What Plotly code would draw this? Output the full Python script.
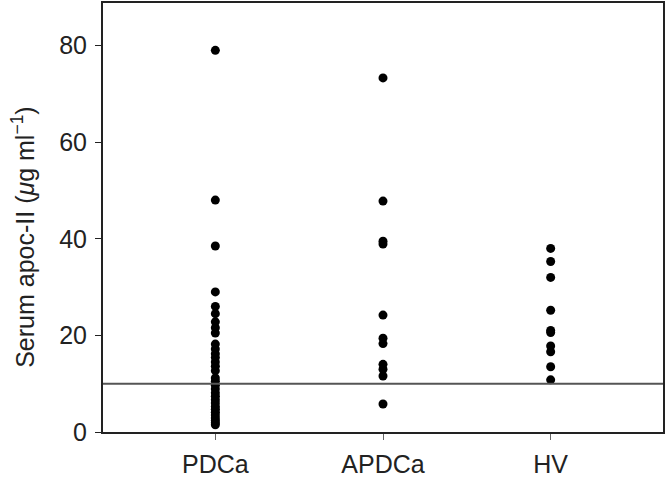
import plotly.graph_objects as go

groups = ["PDCa", "APDCa", "HV"]
pdca = [79, 48, 38.5, 29, 26, 24.5, 22.8, 21.6, 20.5, 18.2, 17.2, 16.2, 15.4, 14.5,
        13.6, 12.7, 11.2, 10.5, 9.7, 8.9, 8.1, 7.4, 6.7, 6.0, 5.3, 4.7, 4.1, 3.5,
        2.9, 2.4, 1.9, 1.5]
apdca = [73.3, 47.8, 39.5, 38.9, 24.2, 19.4, 18.3, 14.0, 13.0, 11.6, 5.8]
hv = [38, 35.3, 32, 25.2, 21, 20.6, 17.8, 16.6, 13.5, 10.8]
cutoff = 10

fig = go.Figure()
for name, vals in zip(groups, [pdca, apdca, hv]):
    fig.add_trace(go.Scatter(x=[name] * len(vals), y=vals, mode="markers",
                             marker=dict(color="black", size=9), showlegend=False))

fig.add_hline(y=cutoff, line=dict(color="#555555", width=2))

# y title placed by hand, it sits a bit below the axis middle in the original
fig.add_annotation(text="Serum apoc-II (<i>μ</i>g ml<sup>−1</sup>)", textangle=-90,
                   xref="paper", yref="paper", x=0, y=0.455, xanchor="right",
                   yanchor="middle", xshift=-62, showarrow=False,
                   font=dict(size=25))

fig.update_layout(
    width=666, height=480,
    margin=dict(l=103, r=2, t=1, b=48),
    plot_bgcolor="white", paper_bgcolor="white",
    font=dict(family="Liberation Sans, Arial, sans-serif", size=25, color="#222"),
)
fig.update_xaxes(
    type="category", range=[-0.67, 2.67],
    showline=True, linecolor="#222", linewidth=2, mirror=True,
    ticks="outside", ticklen=6, tickcolor="#666", tickwidth=1,
    ticklabelstandoff=3, showgrid=False,
)
fig.update_yaxes(
    range=[0, 88.8], tickvals=[0, 20, 40, 60, 80],
    showline=True, linecolor="#222", linewidth=2, mirror=True,
    ticks="outside", ticklen=6, tickcolor="#222", tickwidth=1,
    ticklabelstandoff=3, showgrid=False, zeroline=False,
)

fig.write_html("out.html", config={"displayModeBar": False},
               post_script="document.body.style.margin='0px';")
